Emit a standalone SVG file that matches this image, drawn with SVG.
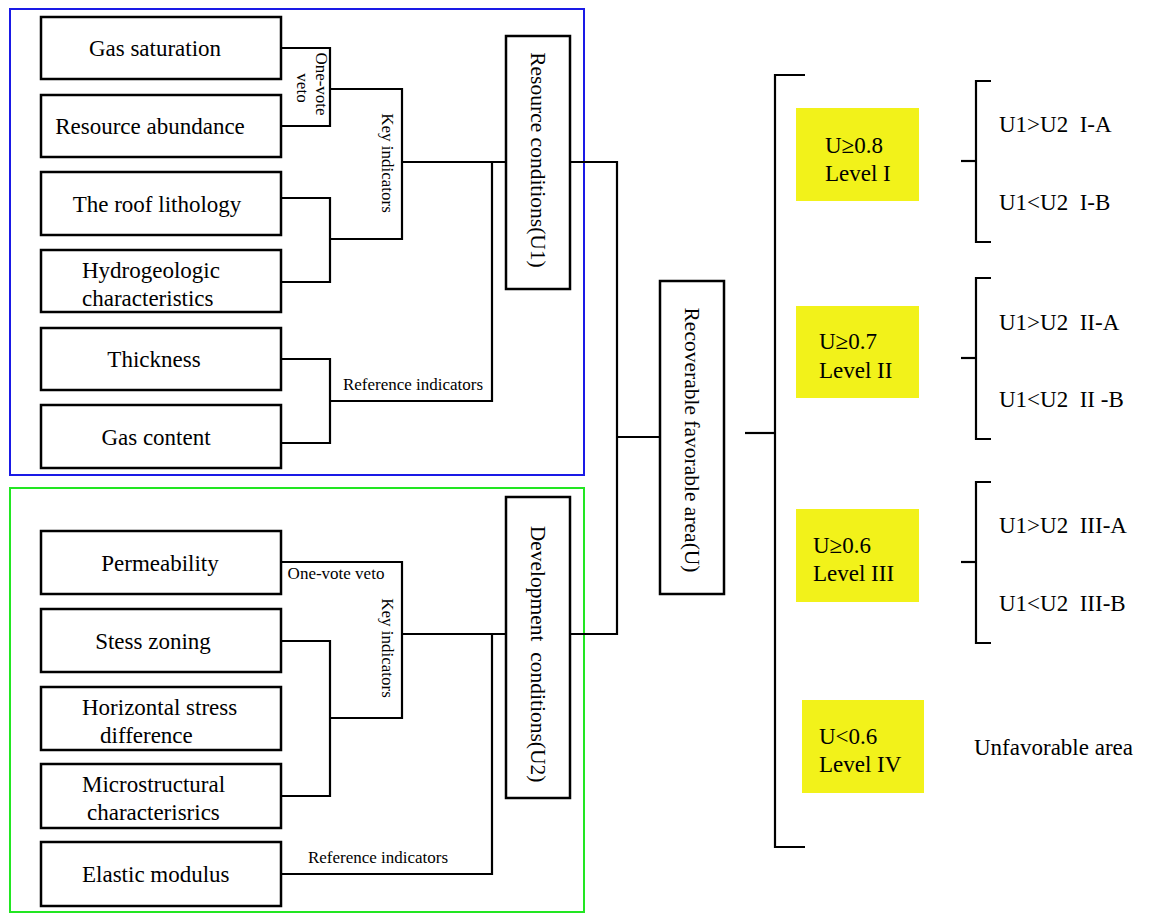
<svg xmlns="http://www.w3.org/2000/svg" width="1154" height="915" viewBox="0 0 1154 915">
<style>
text{font-family:"Liberation Serif","Times New Roman",serif;fill:#000;dominant-baseline:central;white-space:pre}
.b{font-size:23px}
.r{font-size:21.5px}
.s{font-size:17px}
.box{fill:#fff;stroke:#000;stroke-width:2.5}
.y{fill:#f2f21a;stroke:none}
.c{fill:none;stroke:#000;stroke-width:2.2}
</style>
<rect x="10" y="9" width="574" height="466" fill="none" stroke="#1a1ae6" stroke-width="2"/>
<rect x="10" y="488" width="574" height="424" fill="none" stroke="#22e622" stroke-width="2"/>

<g id="connectors" class="c">
<polyline points="281,48 330,48 330,126 281,126"/>
<polyline points="330,89 402,89 402,239 330,239"/>
<polyline points="281,198 330,198 330,282 281,282"/>
<line x1="402" y1="162" x2="506" y2="162"/>
<polyline points="492,162 492,401 330,401"/>
<polyline points="281,359 330,359 330,443 281,443"/>
<polyline points="570,162 617,162 617,634 570,634"/>
<line x1="617" y1="437" x2="660" y2="437"/>
<line x1="745" y1="433" x2="775" y2="433"/>
<polyline points="805,75 775,75 775,847 805,847"/>
<polyline points="991,81 976,81 976,242 991,242"/>
<line x1="961" y1="161" x2="976" y2="161"/>
<polyline points="991,278 976,278 976,439 991,439"/>
<line x1="961" y1="358" x2="976" y2="358"/>
<polyline points="991,482 976,482 976,643 991,643"/>
<line x1="961" y1="562" x2="976" y2="562"/>
<polyline points="281,562 402,562 402,718 330,718"/>
<polyline points="281,641 330,641 330,796 281,796"/>
<line x1="402" y1="634" x2="506" y2="634"/>
<polyline points="492,634 492,874 281,874"/>
</g>

<g id="connector-labels">
<text class="s" transform="translate(321,84) rotate(90)" text-anchor="middle">One-vote</text>
<text class="s" transform="translate(302,88) rotate(90)" text-anchor="middle">veto</text>
<text class="s" transform="translate(387,163) rotate(90)" text-anchor="middle">Key indicators</text>
<text class="s" x="413" y="384" text-anchor="middle" font-size="18">Reference indicators</text>
<text class="s" x="336" y="573" text-anchor="middle" font-size="18">One-vote veto</text>
<text class="s" transform="translate(387,648) rotate(90)" text-anchor="middle">Key indicators</text>
<text class="s" x="378" y="857" text-anchor="middle" font-size="18">Reference indicators</text>
</g>

<g id="gas-saturation"><rect class="box" x="41" y="17" width="240" height="62"/><text class="b" x="155" y="48" text-anchor="middle">Gas saturation</text></g>
<g id="resource-abundance"><rect class="box" x="41" y="95" width="240" height="62"/><text class="b" x="150" y="126" text-anchor="middle">Resource abundance</text></g>
<g id="roof-lithology"><rect class="box" x="41" y="172" width="240" height="63"/><text class="b" x="157" y="204" text-anchor="middle">The roof lithology</text></g>
<g id="hydrogeologic"><rect class="box" x="41" y="250" width="240" height="62"/><text class="b" x="82" y="270">Hydrogeologic</text><text class="b" x="82" y="298">characteristics</text></g>
<g id="thickness"><rect class="box" x="41" y="328" width="240" height="62"/><text class="b" x="154" y="359" text-anchor="middle">Thickness</text></g>
<g id="gas-content"><rect class="box" x="41" y="405" width="240" height="63"/><text class="b" x="156" y="437" text-anchor="middle">Gas content</text></g>

<g id="permeability"><rect class="box" x="41" y="531" width="240" height="63"/><text class="b" x="160" y="563" text-anchor="middle">Permeability</text></g>
<g id="stess-zoning"><rect class="box" x="41" y="609" width="240" height="63"/><text class="b" x="153" y="641" text-anchor="middle">Stess zoning</text></g>
<g id="horizontal-stress"><rect class="box" x="41" y="687" width="240" height="63"/><text class="b" x="82" y="707">Horizontal stress</text><text class="b" x="100" y="735">difference</text></g>
<g id="microstructural"><rect class="box" x="41" y="764" width="240" height="64"/><text class="b" x="82" y="784">Microstructural</text><text class="b" x="87" y="812">characterisrics</text></g>
<g id="elastic-modulus"><rect class="box" x="41" y="842" width="240" height="64"/><text class="b" x="82" y="874">Elastic modulus</text></g>

<g id="resource-conditions"><rect class="box" x="506" y="36" width="64" height="253"/><text class="r" transform="translate(538,160) rotate(90)" text-anchor="middle">Resource conditions(U1)</text></g>
<g id="development-conditions"><rect class="box" x="506" y="497" width="64" height="301"/><text class="r" transform="translate(538,654) rotate(90)" text-anchor="middle">Development  conditions(U2)</text></g>
<g id="recoverable-area"><rect class="box" x="660" y="281" width="64" height="313"/><text class="r" transform="translate(692,440) rotate(90)" text-anchor="middle">Recoverable favorable area(U)</text></g>

<g id="level-1"><rect class="y" x="796" y="108" width="123" height="93"/><text class="b" x="825" y="145">U≥0.8</text><text class="b" x="825" y="173">Level I</text></g>
<g id="level-2"><rect class="y" x="796" y="306" width="123" height="92"/><text class="b" x="819" y="341">U≥0.7</text><text class="b" x="819" y="370">Level II</text></g>
<g id="level-3"><rect class="y" x="796" y="509" width="123" height="93"/><text class="b" x="813" y="545">U≥0.6</text><text class="b" x="813" y="573">Level III</text></g>
<g id="level-4"><rect class="y" x="802" y="700" width="122" height="93"/><text class="b" x="819" y="736">U&lt;0.6</text><text class="b" x="819" y="764">Level IV</text></g>

<g id="outcomes">
<text class="b" x="999" y="124">U1&gt;U2  I-A</text>
<text class="b" x="999" y="202">U1&lt;U2  I-B</text>
<text class="b" x="999" y="322">U1&gt;U2  II-A</text>
<text class="b" x="999" y="399">U1&lt;U2  II -B</text>
<text class="b" x="999" y="525">U1&gt;U2  III-A</text>
<text class="b" x="999" y="603">U1&lt;U2  III-B</text>
<text class="b" x="974" y="747">Unfavorable area</text>
</g>
</svg>
